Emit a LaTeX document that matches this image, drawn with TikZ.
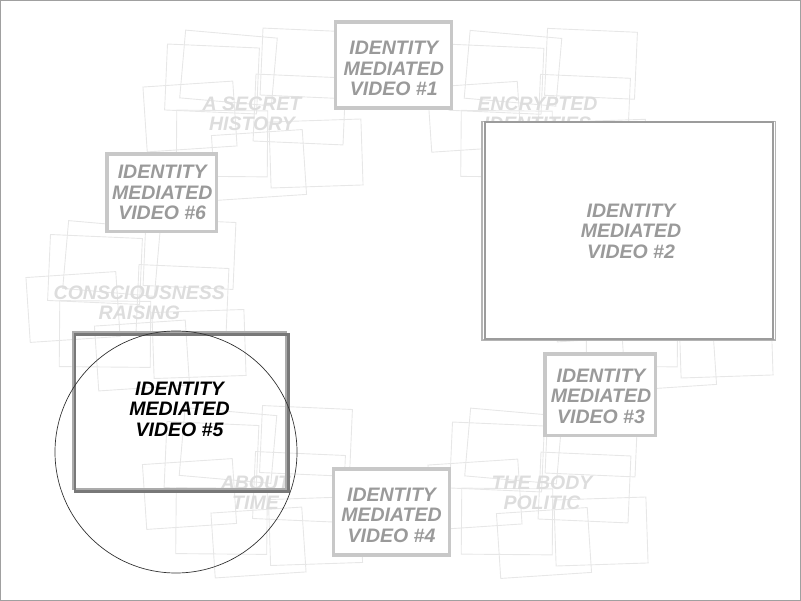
\documentclass[tikz,border=0pt]{standalone}
\usepackage{fontspec}
\setmainfont{Liberation Sans}
\newcommand\labfont{\fontsize{19.5}{20.5}\selectfont\bfseries\itshape}
\newcommand\ttlfont{\fontsize{19.5}{20}\selectfont\bfseries\itshape}
\definecolor{faint}{HTML}{E7E7E7}
\definecolor{faintText}{HTML}{DDDDDD}
\definecolor{boxline}{HTML}{C8C8C8}
\definecolor{boxtext}{HTML}{9A9A9A}
\definecolor{bigLight}{HTML}{B4B4B4}
\definecolor{bigDark}{HTML}{9C9C9C}
\definecolor{fiveLight}{HTML}{ABABAB}
\definecolor{fiveDark}{HTML}{787878}
\definecolor{frameline}{HTML}{A0A0A0}
\tikzset{
  frag/.style={draw=faint, line width=0.9pt},
  ttl/.style={text=faintText, font=\ttlfont, align=center, inner sep=0pt},
  idbox/.style={draw=boxline, line width=3.6pt, fill=white, inner sep=0pt, rectangle},
  idtext/.style={text=boxtext, font=\labfont, align=center, inner sep=0pt},
  bigbox/.style={inner sep=0pt, rectangle},
  fivebox/.style={inner sep=0pt, rectangle},
  ring/.style={circle, draw=black!80, line width=0.7pt, inner sep=0pt, minimum size=242pt},
  pics/cluster/.style={code={
    \draw[frag, shift={(-23.5,-45)}, rotate=-5]   (-46,-34) rectangle (46,34);
    \draw[frag, shift={(-40,-34)},   rotate=-2.5] (-46,-33) rectangle (46,33);
    \draw[frag, shift={(-62,3.5)},   rotate=3.8]  (-45,-32.5) rectangle (45,32.5);
    \draw[frag, shift={(-30,30.5)},  rotate=-0.5] (-45.5,-33) rectangle (45.5,33);
    \draw[frag, shift={(54.5,-49.5)},rotate=-2.5] (-45,-33.5) rectangle (45,33.5);
    \draw[frag, shift={(47.5,-3.5)}, rotate=-2.5] (-45,-33.5) rectangle (45,33.5);
    \draw[frag, shift={(64,40.5)},   rotate=1.9]  (-46,-33) rectangle (46,33);
    \draw[frag, shift={(7,52)},      rotate=3.8]  (-45.5,-32.5) rectangle (45.5,32.5);
  }}
}
\begin{document}
\begin{tikzpicture}[x=1pt,y=-1pt]
\useasboundingbox (0,0) rectangle (801,601);
\draw[draw=frameline, line width=1pt] (0.5,0.5) rectangle (800.5,600.5);

% clusters of faint frames
\pic at (252,113) {cluster};
\pic at (536.5,113.3) {cluster};
\pic at (135,303.5) {cluster};
\pic at (662,303) {cluster};
\pic at (251.5,490.5) {cluster};
\pic at (537,491) {cluster};

\node[ttl] (secret) at (252,113.5) {A SECRET\\HISTORY};
\node[ttl] (encrypted) at (537.5,113.5) {ENCRYPTED\\IDENTITIES};
\node[ttl] (conscious) at (139.3,302.5) {CONSCIOUSNESS\\RAISING};
\node[ttl] (abouttime) at (255.5,493) {ABOUT\\TIME};
\node[ttl] (politic) at (542,493) {THE BODY\\POLITIC};

% identity boxes
\node[idbox, minimum width=116pt, minimum height=86pt] (b1) at (393.3,65) {};
\node[idtext] (t1) at (393.8,68.5) {IDENTITY\\MEDIATED\\VIDEO \#1};

\node[idbox, minimum width=109.5pt, minimum height=77.5pt] (b6) at (161.75,192.75) {};
\node[idtext] (t6) at (162.2,192.8) {IDENTITY\\MEDIATED\\VIDEO \#6};

\node[idbox, minimum width=110.8pt, minimum height=81.5pt] (b3) at (600.1,394.75) {};
\node[idtext] (t3) at (601,396) {IDENTITY\\MEDIATED\\VIDEO \#3};

\node[idbox, minimum width=116.2pt, minimum height=86pt] (b4) at (391.4,512) {};
\node[idtext] (t4) at (391.5,515) {IDENTITY\\MEDIATED\\VIDEO \#4};

% video 2 (large)
\fill[white] (482,121.5) rectangle (775.5,340);
\node[bigbox, draw=bigLight, line width=1.4pt, minimum width=293.5pt, minimum height=218.5pt] (b2a) at (628.75,230.75) {};
\node[bigbox, draw=bigDark, line width=2pt, minimum width=287.5pt, minimum height=216.5pt] (b2b) at (628.75,230.75) {};
\node[idtext] (t2) at (631,231) {IDENTITY\\MEDIATED\\VIDEO \#2};

% video 5 (selected)
\node[fivebox, draw=fiveLight, line width=2pt, minimum width=213.5pt, minimum height=156.5pt] (b5a) at (179.25,410.75) {};
\node[fivebox, draw=fiveDark, line width=2.2pt, minimum width=213.5pt, minimum height=157pt] (b5b) at (181.75,413) {};
\node[idtext, text=black] (t5) at (179.5,409) {IDENTITY\\MEDIATED\\VIDEO \#5};

\node[ring] (lens) at (176,452) {};
\end{tikzpicture}
\end{document}
